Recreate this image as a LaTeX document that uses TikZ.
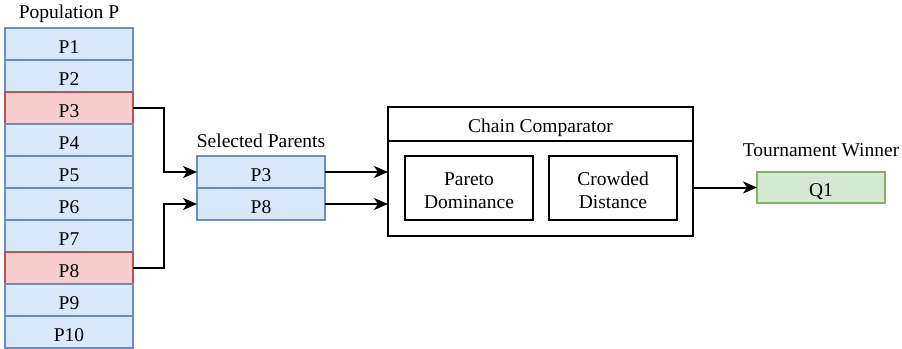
\documentclass[tikz,border=0pt]{standalone}
\usepackage{fontspec}
\setmainfont{Liberation Serif}
\usetikzlibrary{arrows.meta}
\tikzset{
  txt/.style={font=\fontsize{19.5}{23}\selectfont},
  base/.style={rectangle, draw, line width=1.5pt, inner sep=0pt, outer sep=0pt,
    minimum width=128pt, minimum height=32pt, txt, text height=18.8pt, text depth=0pt},
  bluecell/.style={base, fill={rgb,255:red,218;green,232;blue,252}, draw={rgb,255:red,108;green,142;blue,191}},
  redcell/.style={base, fill={rgb,255:red,248;green,206;blue,204}, draw={rgb,255:red,184;green,84;blue,80}},
  greencell/.style={base, fill={rgb,255:red,213;green,232;blue,212}, draw={rgb,255:red,130;green,179;blue,102}},
  plainbox/.style={base, draw=black},
  caption/.style={txt, inner sep=0pt, anchor=base},
  conn/.style={line width=2pt, -{Stealth[length=14pt, width=12pt, inset=4pt]}},
}
\begin{document}
\begin{tikzpicture}[x=1pt, y=-1pt]
  \useasboundingbox (0,0) rectangle (902,348);

  % population column
  \node[caption] (poplabel) at (69,18.5) {Population P};
  \node[bluecell] (p1) at (69,44) {P1};
  \node[bluecell] (p2) at (69,76) {P2};
  \node[redcell]  (p3) at (69,108) {P3};
  \node[bluecell] (p4) at (69,140) {P4};
  \node[bluecell] (p5) at (69,172) {P5};
  \node[bluecell] (p6) at (69,204) {P6};
  \node[bluecell] (p7) at (69,236) {P7};
  \node[redcell]  (p8) at (69,268) {P8};
  \node[bluecell] (p9) at (69,300) {P9};
  \node[bluecell] (p10) at (69,332) {P10};

  % selected parents
  \node[caption] (sellabel) at (261,147) {Selected Parents};
  \node[bluecell] (s3) at (261,172) {P3};
  \node[bluecell] (s8) at (261,204) {P8};

  % chain comparator with its two criteria
  \node[base, draw=black, minimum width=305pt, minimum height=129pt] (cc) at (540.5,171.5) {};
  \node[caption] (cctitle) at (540.5,132.5) {Chain Comparator};
  \coordinate (hl) at (388,141);
  \coordinate (hr) at (693,141);
  \draw[line width=1.5pt] (hl) -- (hr);
  \node[plainbox, minimum height=64pt] (pareto) at (469,188) {};
  \node[caption] (pareto1) at (469,185) {Pareto};
  \node[caption] (pareto2) at (469,208.3) {Dominance};
  \node[plainbox, minimum height=64pt] (crowd) at (613,188) {};
  \node[caption] (crowd1) at (613,185) {Crowded};
  \node[caption] (crowd2) at (613,208.3) {Distance};

  % winner
  \node[caption] (winlabel) at (821,156) {Tournament Winner};
  \node[greencell, minimum height=31pt] (q1) at (821,187.5) {Q1};

  % connectors
  \draw[conn] (p3.east) -- ++(31,0) |- (s3.west);
  \draw[conn] (p8.east) -- ++(31,0) |- (s8.west);
  \draw[conn] (s3.east) -- (cc.west |- s3.east);
  \draw[conn] (s8.east) -- (cc.west |- s8.east);
  \draw[conn] (cc.east |- q1.west) -- (q1.west);
\end{tikzpicture}
\end{document}
